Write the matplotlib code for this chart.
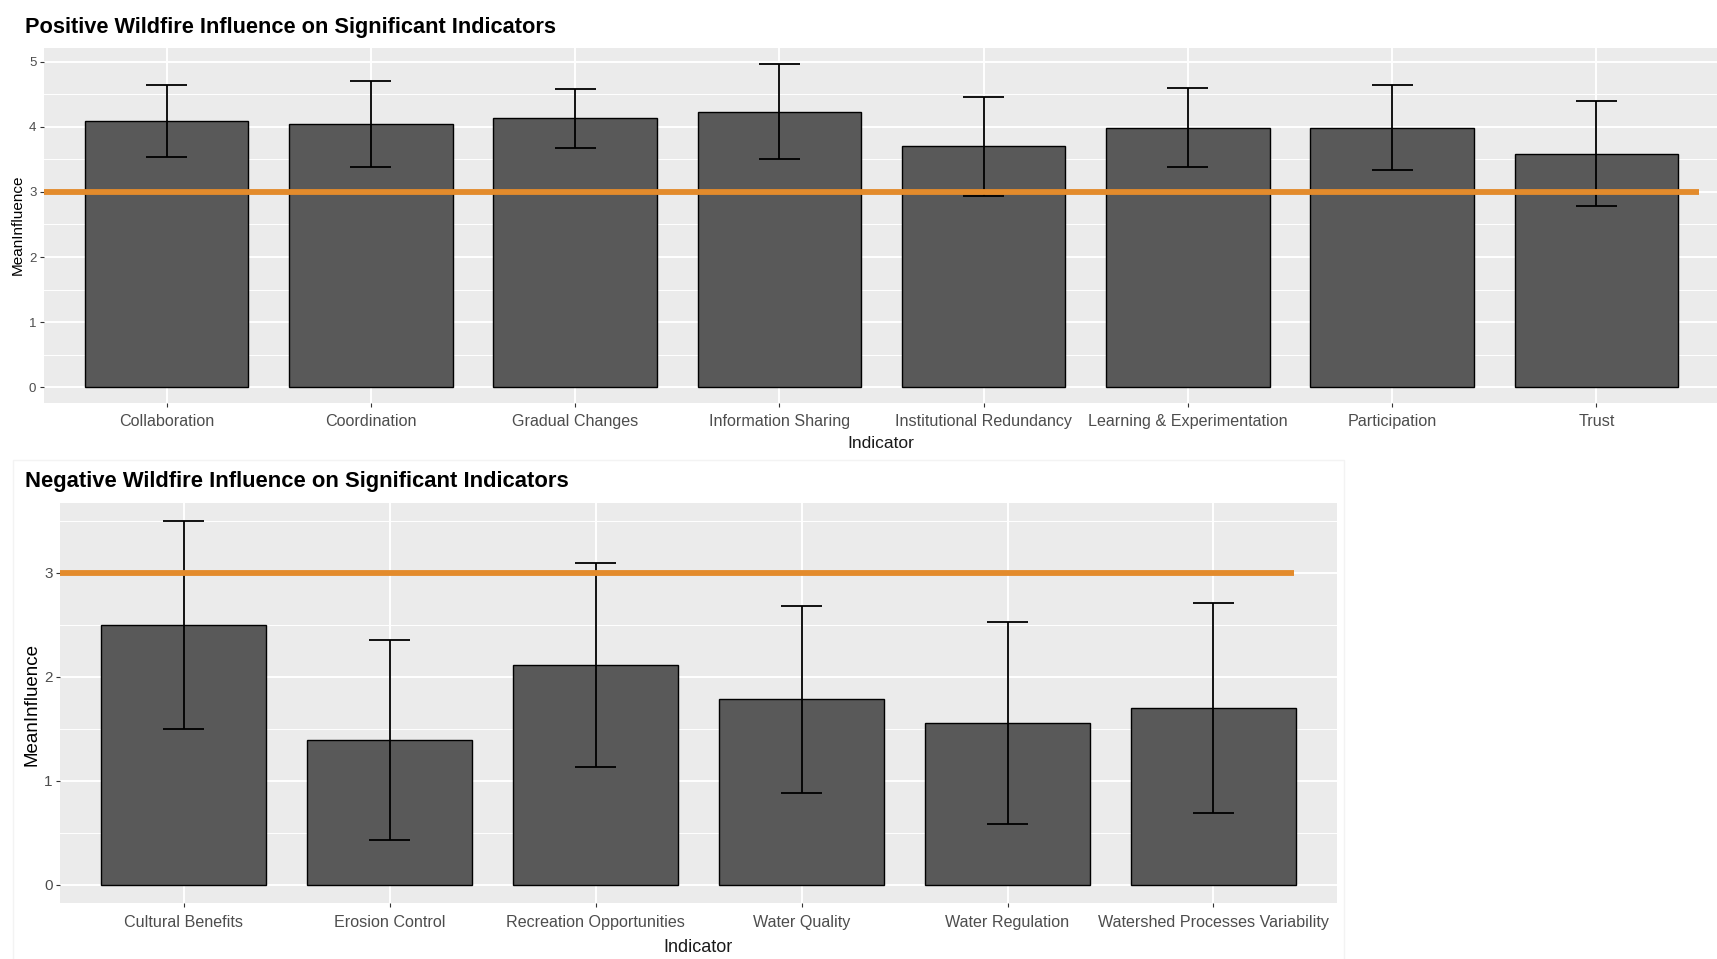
import matplotlib
matplotlib.use("Agg")
import matplotlib.pyplot as plt
from matplotlib.patches import Rectangle
from matplotlib.ticker import MultipleLocator

# mean wildfire influence per indicator, with the standard deviation as error bar
pos_indicators = [
    "Collaboration",
    "Coordination",
    "Gradual Changes",
    "Information Sharing",
    "Institutional Redundancy",
    "Learning & Experimentation",
    "Participation",
    "Trust",
]
pos_mean = [4.09, 4.04, 4.13, 4.23, 3.70, 3.99, 3.99, 3.59]
pos_sd = [0.55, 0.66, 0.46, 0.73, 0.76, 0.61, 0.655, 0.81]

neg_indicators = [
    "Cultural Benefits",
    "Erosion Control",
    "Recreation Opportunities",
    "Water Quality",
    "Water Regulation",
    "Watershed Processes Variability",
]
neg_mean = [2.50, 1.39, 2.11, 1.785, 1.555, 1.695]
neg_sd = [1.00, 0.965, 0.98, 0.90, 0.97, 1.01]

neutral_level = 3

W, H = 1717, 959
BAR = "#595959"
PANEL = "#EBEBEB"
ORANGE = "#E38B2C"
TEXT_GREY = "#4D4D4D"
SANS = ["Liberation Sans", "DejaVu Sans"]


def fx(px):
    return px / W


def fy(px):
    return 1 - px / H


def draw_panel(ax, labels, means, sds, ref_end, ytick_size, ylabel_size, xlabel_size, xpad):
    x = list(range(1, len(labels) + 1))
    lo = [m - s for m, s in zip(means, sds)]
    hi = [m + s for m, s in zip(means, sds)]

    ax.set_facecolor(PANEL)
    for side in ax.spines.values():
        side.set_visible(False)
    ax.set_axisbelow(True)

    ax.bar(x, means, width=0.8, color=BAR, edgecolor="black", linewidth=1.0, zorder=2)
    ax.vlines(x, lo, hi, color="black", linewidth=1.3, zorder=3)
    ax.hlines(lo, [v - 0.1 for v in x], [v + 0.1 for v in x], color="black", linewidth=1.3, zorder=3)
    ax.hlines(hi, [v - 0.1 for v in x], [v + 0.1 for v in x], color="black", linewidth=1.3, zorder=3)
    ax.plot([0.4, ref_end], [neutral_level, neutral_level], color=ORANGE, linewidth=4.2,
            solid_capstyle="butt", zorder=4)

    # ggplot-style expansion: 0.6 on a discrete axis, 5% on a continuous one
    top = max(hi)
    ax.set_xlim(0.4, len(labels) + 0.6)
    ax.set_ylim(-0.05 * top, top * 1.05)

    ax.set_xticks(x)
    ax.set_xticklabels(labels, fontsize=11.6, family=SANS, color=TEXT_GREY)
    ax.yaxis.set_major_locator(MultipleLocator(1))
    ax.yaxis.set_minor_locator(MultipleLocator(0.5))
    for t in ax.get_yticklabels():
        t.set_fontsize(ytick_size)
        t.set_family(SANS)
        t.set_color(TEXT_GREY)

    ax.grid(which="major", color="white", linewidth=1.4)
    ax.grid(which="minor", axis="y", color="white", linewidth=0.7)
    ax.tick_params(which="major", length=3, width=0.8, color="#333333", pad=2.5)
    ax.tick_params(axis="x", which="major", pad=xpad)
    ax.tick_params(which="minor", length=0)

    ax.set_xlabel("Indicator", fontsize=xlabel_size, family=SANS, color="#1A1A1A", va="baseline")
    ax.set_ylabel("MeanInfluence", fontsize=ylabel_size, family=SANS, color="black", va="center")


fig = plt.figure(figsize=(W / 100, H / 100), dpi=100)

# top chart
ax_top = fig.add_axes([fx(44), fy(403.3), fx(1719 - 44), (403.3 - 48.3) / H])
draw_panel(ax_top, pos_indicators, pos_mean, pos_sd, ref_end=8.5,
           ytick_size=9.5, ylabel_size=11, xlabel_size=12.5, xpad=4.6)
ax_top.xaxis.set_label_coords(fx(881), fy(448), transform=fig.transFigure)
ax_top.yaxis.set_label_coords(fx(18), fy(225), transform=fig.transFigure)
fig.text(fx(25), fy(32.7), "Positive Wildfire Influence on Significant Indicators",
         fontsize=15.7, fontweight="bold", family=SANS, va="baseline", ha="left")

# bottom chart sits on its own faintly framed card
fig.add_artist(Rectangle((fx(13), fy(962)), fx(1344 - 13), (962 - 460) / H,
                         transform=fig.transFigure, facecolor="none",
                         edgecolor="#F3F3F3", linewidth=1.0))
ax_bot = fig.add_axes([fx(60.3), fy(902.7), fx(1337 - 60.3), (902.7 - 502.7) / H])
draw_panel(ax_bot, neg_indicators, neg_mean, neg_sd, ref_end=6.39,
           ytick_size=11, ylabel_size=13.5, xlabel_size=13, xpad=6.2)
ax_bot.xaxis.set_label_coords(fx(698), fy(951.7), transform=fig.transFigure)
ax_bot.yaxis.set_label_coords(fx(32), fy(704), transform=fig.transFigure)
fig.text(fx(25), fy(486.7), "Negative Wildfire Influence on Significant Indicators",
         fontsize=15.8, fontweight="bold", family=SANS, va="baseline", ha="left")

fig.savefig("out.png", dpi=100)
plt.close(fig)
